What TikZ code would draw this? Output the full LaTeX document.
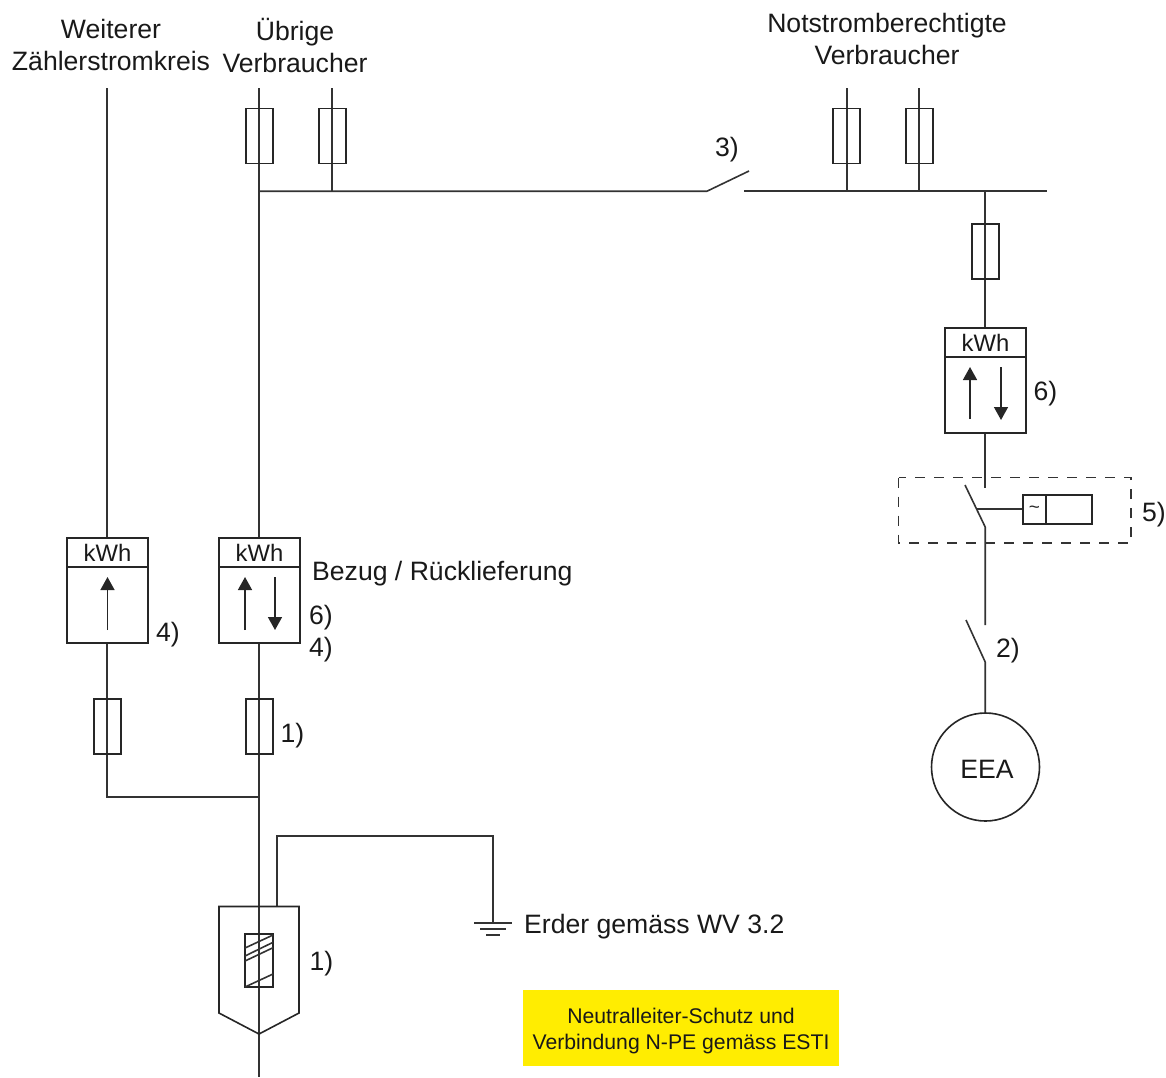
\documentclass[tikz,border=0pt]{standalone}
\usepackage{fontspec}
\setmainfont{Liberation Sans}
\usetikzlibrary{arrows.meta}
\tikzset{
  wire/.style={line width=1.6pt,draw=black!80},
  boxline/.style={line width=1.6pt,draw=black!85,fill=none,inner sep=0pt,rectangle},
  fuse/.style={boxline,minimum width=27pt,minimum height=55pt},
  meter/.style={boxline,minimum width=81pt,minimum height=105pt},
  flow/.style={line width=1.5pt,draw=black!85,-{Triangle[length=13pt,width=14pt]}},
  lab/.style={font=\fontsize{26.6}{32}\selectfont,text=black!90,inner sep=0pt,align=center},
  kwh/.style={font=\fontsize{23.8}{26}\selectfont,text=black!90,inner sep=0pt}
}
\begin{document}
\begin{tikzpicture}[x=1pt,y=-1pt]
\useasboundingbox (0,0) rectangle (1166,1077);
% free wire ends
\coordinate (tL) at (107.2,88);
\coordinate (tM) at (259.2,88);
\coordinate (tF) at (332.2,88);
\coordinate (tN1) at (847,88);
\coordinate (tN2) at (919,88);
\coordinate (busA) at (259.2,191.2);
\coordinate (busB) at (332.2,191.2);
\coordinate (sw3a) at (707,191.2);
\coordinate (sw3b) at (749,171);
\coordinate (busC) at (744,191.2);
\coordinate (busD) at (847,191.2);
\coordinate (busE) at (919,191.2);
\coordinate (busF) at (985.2,191.2);
\coordinate (busG) at (1047,191.2);
\coordinate (sw5a) at (965,485);
\coordinate (sw5b) at (985.2,527);
\coordinate (sw5c) at (977,509.2);
\coordinate (a5) at (985.2,488);
\coordinate (sw2top) at (985.2,625);
\coordinate (sw2a) at (966,620);
\coordinate (sw2b) at (985.2,662);
\coordinate (join) at (259.2,797);
\coordinate (corner) at (107.2,797);
\coordinate (bot) at (259.2,1077);
\coordinate (e0) at (277,907);
\coordinate (e1) at (277,836);
\coordinate (e2) at (493,836);
\coordinate (e3) at (493,923);
% wires
\draw[wire] (tL) -- (107.2,538);
\draw[wire] (tM) -- (259.2,538);
\draw[wire] (tF) -- (busB);
\draw[wire] (tN1) -- (busD);
\draw[wire] (tN2) -- (busE);
\draw[wire] (busA) -- (sw3a) -- (sw3b);
\draw[wire] (busC) -- (busG);
\draw[wire] (busF) -- (985.2,328);
\draw[wire] (985.2,433) -- (a5);
\draw[wire] (sw5a) -- (sw5b) -- (sw2top);
\draw[wire] (sw2a) -- (sw2b) -- (985.2,713);
\draw[wire] (107.2,643) -- (corner) -- (join);
\draw[wire] (259.2,643) -- (bot);
\draw[wire] (e0) -- (e1) -- (e2) -- (e3);
% earth
\coordinate (g1l) at (474,923); \coordinate (g1r) at (512,923);
\coordinate (g2l) at (480,929); \coordinate (g2r) at (506,929);
\coordinate (g3l) at (486,935); \coordinate (g3r) at (500,935);
\draw[wire] (g1l) -- (g1r);
\draw[wire] (g2l) -- (g2r);
\draw[wire] (g3l) -- (g3r);
% fuses
\node[fuse] (f1) at (259.5,136) {};
\node[fuse] (f2) at (332.5,136) {};
\node[fuse] (f3) at (846.5,136) {};
\node[fuse] (f4) at (919.5,136) {};
\node[fuse] (f5) at (985.5,251.5) {};
\node[fuse] (f6) at (107.5,726.5) {};
\node[fuse] (f7) at (259.5,726.5) {};
% meters
\node[meter] (mR) at (985.5,380.5) {};
\draw[boxline] (945,357) -- (1026,357);
\node[kwh] (mRt) at (985.5,343) {kWh};
\coordinate (mRa0) at (970,419); \coordinate (mRa1) at (970,367);
\coordinate (mRb0) at (1001,367); \coordinate (mRb1) at (1001,420);
\draw[flow] (mRa0) -- (mRa1);
\draw[flow] (mRb0) -- (mRb1);
\node[meter] (mL) at (107.5,590.5) {};
\draw[boxline] (67,567) -- (148,567);
\node[kwh] (mLt) at (107.5,553) {kWh};
\coordinate (mLa0) at (107.5,630); \coordinate (mLa1) at (107.5,577);
\draw[flow] (mLa0) -- (mLa1);
\node[meter] (mM) at (259.5,590.5) {};
\draw[boxline] (219,567) -- (300,567);
\node[kwh] (mMt) at (259.5,553) {kWh};
\coordinate (mMa0) at (245,630); \coordinate (mMa1) at (245,577);
\coordinate (mMb0) at (275,577); \coordinate (mMb1) at (275,630);
\draw[flow] (mMa0) -- (mMa1);
\draw[flow] (mMb0) -- (mMb1);
% dashed RCD box
\draw[line width=1.4pt,draw=black!80,dash pattern=on 10pt off 9pt] (898.5,477.5) rectangle (1131,543);
\node[boxline,minimum width=69pt,minimum height=29pt] (rel) at (1057.5,509.5) {};
\draw[boxline] (1046,495) -- (1046,524);
\node[font=\fontsize{19}{20}\selectfont,inner sep=0pt,text=black!85] (tilde) at (1034.5,509.5) {\char"007E};
\draw[wire] (sw5c) -- (sw5c -| rel.west);
% EEA
\node[circle,line width=1.6pt,draw=black!85,minimum size=108pt,inner sep=0pt] (eea) at (985.5,767) {};
\node[lab] (eeat) at (987,769) {EEA};
% main fuse
\draw[boxline] (219,906.5) -- (299,906.5) -- (299,1013) -- (259,1034) -- (219,1013) -- cycle;
\node[boxline,minimum width=28pt,minimum height=53pt] (mf) at (259,960.5) {};
\draw[wire] (245,948) -- (273,935);
\draw[wire] (245,956) -- (273,942.3);
\draw[wire] (245,961) -- (273,947.7);
\draw[wire] (245,987) -- (273,974);
% yellow note
\node[fill=yellow!95!orange,minimum width=316pt,minimum height=76pt,inner sep=0pt] (note) at (681,1028) {};
\node[inner sep=0pt,align=center,font=\fontsize{21.2}{26.5}\selectfont,text=black!90] (notet) at (681,1031) {Neutralleiter-Schutz und\\Verbindung N-PE gemäss ESTI};
% labels
\node[lab] (t1) at (111,44.5) {Weiterer\\Zählerstromkreis};
\node[lab] (t2) at (295,45) {Übrige\\Verbraucher};
\node[lab] (t3) at (887,38.5) {Notstromberechtigte\\Verbraucher};
\node[lab] (t4) at (727,149.5) {3)};
\node[lab] (t5) at (1045.5,394) {6)};
\node[lab] (t6) at (1154,514.5) {5)};
\node[lab] (t7) at (1008,651) {2)};
\node[lab,anchor=west] (t8) at (312,574) {Bezug / Rücklieferung};
\node[lab] (t9) at (168,635) {4)};
\node[lab] (t10) at (321,618) {6)};
\node[lab] (t11) at (321,650) {4)};
\node[lab] (t12) at (292.5,736) {1)};
\node[lab] (t13) at (321.5,964) {1)};
\node[lab,anchor=west] (t14) at (524,927) {Erder gemäss WV 3.2};
\end{tikzpicture}
\end{document}
